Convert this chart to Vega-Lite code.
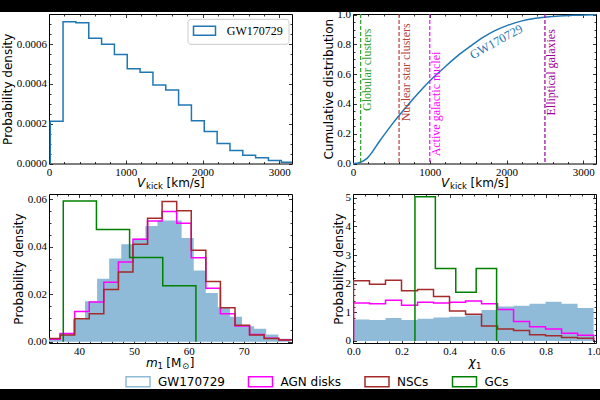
{
  "$schema": "https://vega.github.io/schema/vega-lite/v6.json",
  "padding": 0,
  "background": "white",
  "columns": 4,
  "spacing": 0,
  "bounds": "flush",
  "align": "each",
  "center": false,
  "resolve": {
    "scale": {"color": "independent", "stroke": "independent"},
    "legend": {"color": "independent", "stroke": "independent"}
  },
  "config": {
    "view": {"stroke": null},
    "axis": {
      "grid": false, "domain": false,
      "labelFont": "Liberation Serif", "labelFontSize": 11, "labelColor": "black",
      "labelPadding": 6, "labelFlush": false, "labelOverlap": false,
      "titleFont": "DejaVu Sans", "titleFontSize": 12, "titleFontWeight": "normal", "titleColor": "black",
      "tickColor": "black", "tickWidth": 0.8, "tickSize": -3.5
    }
  },
  "datasets": {
    "tl": [
      {"s": "GW170729", "i": 0, "x": 16, "y": 0},
      {"s": "GW170729", "i": 1, "x": 16, "y": 0.000212},
      {"s": "GW170729", "i": 2, "x": 183, "y": 0.000713},
      {"s": "GW170729", "i": 3, "x": 350, "y": 0.000708},
      {"s": "GW170729", "i": 4, "x": 518, "y": 0.00063},
      {"s": "GW170729", "i": 5, "x": 685, "y": 0.0006},
      {"s": "GW170729", "i": 6, "x": 852, "y": 0.000548},
      {"s": "GW170729", "i": 7, "x": 1019, "y": 0.000477},
      {"s": "GW170729", "i": 8, "x": 1186, "y": 0.000459},
      {"s": "GW170729", "i": 9, "x": 1354, "y": 0.000395},
      {"s": "GW170729", "i": 10, "x": 1521, "y": 0.00037},
      {"s": "GW170729", "i": 11, "x": 1688, "y": 0.000294},
      {"s": "GW170729", "i": 12, "x": 1855, "y": 0.000215},
      {"s": "GW170729", "i": 13, "x": 2022, "y": 0.000161},
      {"s": "GW170729", "i": 14, "x": 2190, "y": 0.000101},
      {"s": "GW170729", "i": 15, "x": 2357, "y": 0.0000655},
      {"s": "GW170729", "i": 16, "x": 2524, "y": 0.000042},
      {"s": "GW170729", "i": 17, "x": 2691, "y": 0.0000286},
      {"s": "GW170729", "i": 18, "x": 2858, "y": 0.0000151},
      {"s": "GW170729", "i": 19, "x": 3026, "y": 0.0000067},
      {"s": "GW170729", "i": 20, "x": 3193, "y": 0}
    ],
    "cdf": [
      {"x": 0, "y": 0}, {"x": 16, "y": 0}, {"x": 183, "y": 0.035}, {"x": 350, "y": 0.153},
      {"x": 518, "y": 0.27}, {"x": 685, "y": 0.375}, {"x": 852, "y": 0.474}, {"x": 1019, "y": 0.565},
      {"x": 1186, "y": 0.644}, {"x": 1354, "y": 0.72}, {"x": 1521, "y": 0.785}, {"x": 1688, "y": 0.846},
      {"x": 1855, "y": 0.895}, {"x": 2022, "y": 0.93}, {"x": 2190, "y": 0.957}, {"x": 2357, "y": 0.974},
      {"x": 2524, "y": 0.985}, {"x": 2691, "y": 0.992}, {"x": 2858, "y": 0.996}, {"x": 3026, "y": 0.999},
      {"x": 3165, "y": 1.0}
    ],
    "envs": [
      {"n": "Globular clusters", "v": 100, "p": 0.63},
      {"n": "Nuclear star clusters", "v": 600, "p": 0.613},
      {"n": "Active galactic nuclei", "v": 1000, "p": 0.4},
      {"n": "Elliptical galaxies", "v": 2500, "p": 0.613}
    ],
    "bl_gw": [
      {"x": 34.5, "y": 0.0013}, {"x": 36.7, "y": 0.003}, {"x": 38.9, "y": 0.0094}, {"x": 41.1, "y": 0.017},
      {"x": 43.3, "y": 0.0265}, {"x": 45.5, "y": 0.035}, {"x": 47.7, "y": 0.041}, {"x": 49.9, "y": 0.0435},
      {"x": 52.1, "y": 0.0487}, {"x": 54.3, "y": 0.051}, {"x": 56.5, "y": 0.051}, {"x": 58.7, "y": 0.0437},
      {"x": 60.9, "y": 0.03}, {"x": 63.1, "y": 0.0205}, {"x": 65.3, "y": 0.0145}, {"x": 67.5, "y": 0.0105},
      {"x": 69.7, "y": 0.0065}, {"x": 71.9, "y": 0.0055}, {"x": 74.1, "y": 0.003}, {"x": 76.3, "y": 0.0012},
      {"x": 78.5, "y": 0.0012}
    ],
    "bl_agn": [
      {"i": 0, "x": 33.9, "y": 0}, {"i": 1, "x": 33.9, "y": 0.001}, {"i": 2, "x": 36.56, "y": 0.0035},
      {"i": 3, "x": 39.21, "y": 0.0127}, {"i": 4, "x": 41.87, "y": 0.0167}, {"i": 5, "x": 44.52, "y": 0.025},
      {"i": 6, "x": 47.18, "y": 0.0336}, {"i": 7, "x": 49.83, "y": 0.0431}, {"i": 8, "x": 52.49, "y": 0.0508},
      {"i": 9, "x": 55.14, "y": 0.0548}, {"i": 10, "x": 57.8, "y": 0.0499}, {"i": 11, "x": 60.45, "y": 0.0354},
      {"i": 12, "x": 63.11, "y": 0.0225}, {"i": 13, "x": 65.76, "y": 0.0118}, {"i": 14, "x": 68.42, "y": 0.0066},
      {"i": 15, "x": 71.07, "y": 0.003}, {"i": 16, "x": 73.73, "y": 0.0015}, {"i": 17, "x": 76.38, "y": 0.0008},
      {"i": 18, "x": 79.04, "y": 0}
    ],
    "bl_nsc": [
      {"i": 0, "x": 33.9, "y": 0}, {"i": 1, "x": 33.9, "y": 0.0013}, {"i": 2, "x": 36.56, "y": 0.0028},
      {"i": 3, "x": 39.21, "y": 0.0097}, {"i": 4, "x": 41.87, "y": 0.0118}, {"i": 5, "x": 44.52, "y": 0.022},
      {"i": 6, "x": 47.18, "y": 0.0294}, {"i": 7, "x": 49.83, "y": 0.041}, {"i": 8, "x": 52.49, "y": 0.052},
      {"i": 9, "x": 55.14, "y": 0.059}, {"i": 10, "x": 57.8, "y": 0.0551}, {"i": 11, "x": 60.45, "y": 0.0385},
      {"i": 12, "x": 63.11, "y": 0.0253}, {"i": 13, "x": 65.76, "y": 0.0143}, {"i": 14, "x": 68.42, "y": 0.0069},
      {"i": 15, "x": 71.07, "y": 0.0028}, {"i": 16, "x": 73.73, "y": 0.0013}, {"i": 17, "x": 76.38, "y": 0.0007},
      {"i": 18, "x": 79.04, "y": 0}
    ],
    "bl_gc": [
      {"i": 0, "x": 37.14, "y": 0}, {"i": 1, "x": 37.14, "y": 0.0593}, {"i": 2, "x": 43.18, "y": 0.0473},
      {"i": 3, "x": 49.22, "y": 0.0355}, {"i": 4, "x": 55.26, "y": 0.0236}, {"i": 5, "x": 61.3, "y": 0}
    ],
    "br_gw": [
      {"x": 0, "y": 0.75}, {"x": 0.0667, "y": 0.73}, {"x": 0.1333, "y": 0.8}, {"x": 0.2, "y": 0.73},
      {"x": 0.2667, "y": 0.78}, {"x": 0.3333, "y": 0.82}, {"x": 0.4, "y": 0.85}, {"x": 0.4667, "y": 0.9},
      {"x": 0.5333, "y": 1.08}, {"x": 0.6, "y": 1.2}, {"x": 0.6667, "y": 1.23}, {"x": 0.7333, "y": 1.3},
      {"x": 0.8, "y": 1.37}, {"x": 0.8667, "y": 1.3}, {"x": 0.9333, "y": 1.15}, {"x": 1.0, "y": 1.15}
    ],
    "br_agn": [
      {"i": 0, "x": 0, "y": 0}, {"i": 1, "x": 0, "y": 1.33}, {"i": 2, "x": 0.0667, "y": 1.3},
      {"i": 3, "x": 0.1333, "y": 1.42}, {"i": 4, "x": 0.2, "y": 1.25}, {"i": 5, "x": 0.2667, "y": 1.35},
      {"i": 6, "x": 0.3333, "y": 1.33}, {"i": 7, "x": 0.4, "y": 1.35}, {"i": 8, "x": 0.4667, "y": 1.4},
      {"i": 9, "x": 0.5333, "y": 1.3}, {"i": 10, "x": 0.6, "y": 1.1}, {"i": 11, "x": 0.6667, "y": 0.68},
      {"i": 12, "x": 0.7333, "y": 0.5}, {"i": 13, "x": 0.8, "y": 0.42}, {"i": 14, "x": 0.8667, "y": 0.27},
      {"i": 15, "x": 0.9333, "y": 0.2}, {"i": 16, "x": 1.0, "y": 0}
    ],
    "br_nsc": [
      {"i": 0, "x": 0, "y": 0}, {"i": 1, "x": 0, "y": 2.1}, {"i": 2, "x": 0.0667, "y": 1.98},
      {"i": 3, "x": 0.1333, "y": 2.12}, {"i": 4, "x": 0.2, "y": 1.75}, {"i": 5, "x": 0.2667, "y": 1.8},
      {"i": 6, "x": 0.3333, "y": 1.55}, {"i": 7, "x": 0.4, "y": 1.05}, {"i": 8, "x": 0.4667, "y": 0.93},
      {"i": 9, "x": 0.5333, "y": 0.52}, {"i": 10, "x": 0.6, "y": 0.42}, {"i": 11, "x": 0.6667, "y": 0.37},
      {"i": 12, "x": 0.7333, "y": 0.22}, {"i": 13, "x": 0.8, "y": 0.18}, {"i": 14, "x": 0.8667, "y": 0.12},
      {"i": 15, "x": 0.9333, "y": 0.1}, {"i": 16, "x": 1.0, "y": 0}
    ],
    "br_gc": [
      {"i": 0, "x": 0.256, "y": 0}, {"i": 1, "x": 0.256, "y": 5.03}, {"i": 2, "x": 0.341, "y": 2.53},
      {"i": 3, "x": 0.426, "y": 1.7}, {"i": 4, "x": 0.511, "y": 2.53}, {"i": 5, "x": 0.596, "y": 0}
    ]
  },
  "concat": [
    {"width": 49, "height": 12, "data": {"values": []}, "mark": "point", "view": {"fill": "black"}},
    {"width": 243, "height": 12, "data": {"values": []}, "mark": "point", "view": {"fill": "black"}},
    {"width": 61, "height": 12, "data": {"values": []}, "mark": "point", "view": {"fill": "black"}},
    {"width": 247, "height": 12, "data": {"values": []}, "mark": "point", "view": {"fill": "black"}},

    {"width": 49, "height": 1.5, "data": {"values": []}, "mark": "point"},
    {"width": 243, "height": 1.5, "data": {"values": []}, "mark": "point"},
    {"width": 61, "height": 1.5, "data": {"values": []}, "mark": "point"},
    {"width": 243, "height": 1.5, "data": {"values": []}, "mark": "point"},

    {"width": 49, "height": 149.5, "data": {"values": []}, "mark": "point"},
    {
      "width": 243, "height": 149.5,
      "view": {"stroke": "black", "strokeWidth": 1},
      "resolve": {"axis": {"x": "independent", "y": "independent"}},
      "layer": [
        {
          "data": {"name": "tl"},
          "mark": {"type": "line", "interpolate": "step-after", "strokeWidth": 1.5, "clip": true},
          "encoding": {
            "x": {"field": "x", "type": "quantitative", "scale": {"domain": [0, 3165], "nice": false, "zero": false},
              "axis": {"orient": "bottom", "values": [0, 1000, 2000, 3000], "format": "d", "title": "[km/s]",
                "titleX": 117, "titleY": 22.6, "titleAlign": "left", "titleBaseline": "alphabetic"}},
            "y": {"field": "y", "type": "quantitative", "scale": {"domain": [0, 0.000752], "nice": false, "zero": false},
              "axis": {"orient": "left", "values": [0, 0.0002, 0.0004, 0.0006], "format": ".4f", "title": "Probability density",
                "titleX": -41.5, "titleY": 74.75, "titleAlign": "center", "titleBaseline": "middle"}},
            "order": {"field": "i", "type": "quantitative"},
            "stroke": {"field": "s", "type": "nominal", "scale": {"domain": ["GW170729"], "range": ["#1f77b4"]},
              "legend": {"orient": "none", "legendX": 138.5, "legendY": 4.8, "title": null, "padding": 5,
                "strokeColor": "#cccccc", "fillColor": "white", "cornerRadius": 3,
                "symbolType": "M-1,-0.75H2.667V0.75H-1Z", "symbolSize": 144, "symbolStrokeWidth": 1.5,
                "symbolFillColor": "transparent", "labelFont": "Liberation Serif", "labelFontSize": 12,
                "labelColor": "black", "labelOffset": 20.3}}
          }
        },
        {
          "data": {"values": []}, "mark": "point",
          "encoding": {
            "x": {"field": "x", "type": "quantitative", "scale": {"domain": [0, 3165], "nice": false, "zero": false},
              "axis": {"orient": "bottom", "values": [200, 400, 600, 800, 1200, 1400, 1600, 1800, 2200, 2400, 2600, 2800],
                "labels": false, "tickSize": -2, "title": "V", "titleFontStyle": "italic",
                "titleX": 87.5, "titleY": 22.6, "titleAlign": "left", "titleBaseline": "alphabetic"}},
            "y": {"field": "y", "type": "quantitative", "scale": {"domain": [0, 0.000752], "nice": false, "zero": false},
              "axis": {"orient": "left", "values": [0.00005, 0.0001, 0.00015, 0.00025, 0.0003, 0.00035, 0.00045, 0.0005, 0.00055, 0.00065, 0.0007],
                "labels": false, "tickSize": -2, "title": null}}
          }
        },
        {
          "data": {"values": []}, "mark": "point",
          "encoding": {
            "x": {"field": "x", "type": "quantitative", "scale": {"domain": [0, 3165], "nice": false, "zero": false},
              "axis": {"orient": "top", "values": [0, 1000, 2000, 3000], "labels": false, "title": null}},
            "y": {"field": "y", "type": "quantitative", "scale": {"domain": [0, 0.000752], "nice": false, "zero": false},
              "axis": {"orient": "right", "values": [0, 0.0002, 0.0004, 0.0006], "labels": false, "title": null}}
          }
        },
        {
          "data": {"values": []}, "mark": "point",
          "encoding": {
            "x": {"field": "x", "type": "quantitative", "scale": {"domain": [0, 3165], "nice": false, "zero": false},
              "axis": {"orient": "top", "values": [200, 400, 600, 800, 1200, 1400, 1600, 1800, 2200, 2400, 2600, 2800],
                "labels": false, "tickSize": -2, "title": null}},
            "y": {"field": "y", "type": "quantitative", "scale": {"domain": [0, 0.000752], "nice": false, "zero": false},
              "axis": {"orient": "right", "values": [0.00005, 0.0001, 0.00015, 0.00025, 0.0003, 0.00035, 0.00045, 0.0005, 0.00055, 0.00065, 0.0007],
                "labels": false, "tickSize": -2, "title": null}}
          }
        },
        {
          "data": {"values": []}, "mark": "point",
          "encoding": {
            "x": {"field": "x", "type": "quantitative", "scale": {"domain": [0, 3165], "nice": false, "zero": false},
              "axis": {"orient": "bottom", "labels": false, "ticks": false, "title": "kick", "titleFontSize": 8.5,
                "titleX": 96.5, "titleY": 25, "titleAlign": "left", "titleBaseline": "alphabetic"}}
          }
        }
      ]
    },
    {"width": 61, "height": 149.5, "data": {"values": []}, "mark": "point"},
    {
      "width": 243, "height": 149.5,
      "view": {"stroke": "black", "strokeWidth": 1},
      "resolve": {"axis": {"x": "independent", "y": "independent"}},
      "layer": [
        {
          "data": {"name": "cdf"},
          "mark": {"type": "line", "color": "#1f77b4", "strokeWidth": 1.5, "interpolate": "monotone"},
          "encoding": {
            "x": {"field": "x", "type": "quantitative", "scale": {"domain": [0, 3165], "nice": false, "zero": false},
              "axis": {"orient": "bottom", "values": [0, 1000, 2000, 3000], "format": "d", "title": "[km/s]",
                "titleX": 117, "titleY": 22.6, "titleAlign": "left", "titleBaseline": "alphabetic"}},
            "y": {"field": "y", "type": "quantitative", "scale": {"domain": [0, 1.005], "nice": false, "zero": false},
              "axis": {"orient": "left", "values": [0, 0.2, 0.4, 0.6, 0.8, 1], "format": ".1f", "title": "Cumulative distribution",
                "titleX": -25, "titleY": 74.75, "titleAlign": "center", "titleBaseline": "middle"}}
          }
        },
        {
          "data": {"name": "envs"},
          "mark": {"type": "rule", "strokeDash": [4, 2], "strokeWidth": 1.2},
          "encoding": {
            "x": {"field": "v", "type": "quantitative", "scale": {"domain": [0, 3165], "nice": false, "zero": false},
              "axis": {"orient": "bottom", "labels": false, "ticks": false, "title": "V", "titleFontStyle": "italic",
                "titleX": 87.5, "titleY": 22.6, "titleAlign": "left", "titleBaseline": "alphabetic"}},
            "color": {"field": "n", "type": "nominal", "legend": null,
              "scale": {"domain": ["Globular clusters", "Nuclear star clusters", "Active galactic nuclei", "Elliptical galaxies"],
                "range": ["#2ca02c", "#b5403a", "#ff00ff", "#9b009b"]}}
          }
        },
        {
          "data": {"name": "envs"},
          "mark": {"type": "text", "angle": 270, "align": "center", "baseline": "top", "dy": 1.5,
            "font": "Liberation Serif", "fontSize": 12},
          "encoding": {
            "x": {"field": "v", "type": "quantitative", "scale": {"domain": [0, 3165], "nice": false, "zero": false},
              "axis": {"orient": "bottom", "labels": false, "ticks": false, "title": "kick", "titleFontSize": 8.5,
                "titleX": 96.5, "titleY": 25, "titleAlign": "left", "titleBaseline": "alphabetic"}},
            "y": {"field": "p", "type": "quantitative", "scale": {"domain": [0, 1.005], "nice": false, "zero": false}, "axis": null},
            "text": {"field": "n"},
            "color": {"field": "n", "type": "nominal", "legend": null,
              "scale": {"domain": ["Globular clusters", "Nuclear star clusters", "Active galactic nuclei", "Elliptical galaxies"],
                "range": ["#2ca02c", "#b5403a", "#ff00ff", "#9b009b"]}}
          }
        },
        {
          "data": {"values": [{"n": "GW170729", "v": 1866, "p": 0.818}]},
          "mark": {"type": "text", "angle": 331, "align": "center", "baseline": "middle",
            "font": "Liberation Serif", "fontSize": 12.5, "color": "#1f77b4"},
          "encoding": {
            "x": {"field": "v", "type": "quantitative", "scale": {"domain": [0, 3165], "nice": false, "zero": false}, "axis": null},
            "y": {"field": "p", "type": "quantitative", "scale": {"domain": [0, 1.005], "nice": false, "zero": false}, "axis": null},
            "text": {"field": "n"}
          }
        },
        {
          "data": {"values": []}, "mark": "point",
          "encoding": {
            "x": {"field": "x", "type": "quantitative", "scale": {"domain": [0, 3165], "nice": false, "zero": false},
              "axis": {"orient": "bottom", "values": [200, 400, 600, 800, 1200, 1400, 1600, 1800, 2200, 2400, 2600, 2800],
                "labels": false, "tickSize": -2, "title": null}},
            "y": {"field": "y", "type": "quantitative", "scale": {"domain": [0, 1.005], "nice": false, "zero": false},
              "axis": {"orient": "left", "values": [0.05, 0.1, 0.15, 0.25, 0.3, 0.35, 0.45, 0.5, 0.55, 0.65, 0.7, 0.75, 0.85, 0.9, 0.95],
                "labels": false, "tickSize": -2, "title": null}}
          }
        },
        {
          "data": {"values": []}, "mark": "point",
          "encoding": {
            "x": {"field": "x", "type": "quantitative", "scale": {"domain": [0, 3165], "nice": false, "zero": false},
              "axis": {"orient": "top", "values": [0, 1000, 2000, 3000], "labels": false, "title": null}},
            "y": {"field": "y", "type": "quantitative", "scale": {"domain": [0, 1.005], "nice": false, "zero": false},
              "axis": {"orient": "right", "values": [0, 0.2, 0.4, 0.6, 0.8, 1], "labels": false, "title": null}}
          }
        },
        {
          "data": {"values": []}, "mark": "point",
          "encoding": {
            "x": {"field": "x", "type": "quantitative", "scale": {"domain": [0, 3165], "nice": false, "zero": false},
              "axis": {"orient": "top", "values": [200, 400, 600, 800, 1200, 1400, 1600, 1800, 2200, 2400, 2600, 2800],
                "labels": false, "tickSize": -2, "title": null}},
            "y": {"field": "y", "type": "quantitative", "scale": {"domain": [0, 1.005], "nice": false, "zero": false},
              "axis": {"orient": "right", "values": [0.05, 0.1, 0.15, 0.25, 0.3, 0.35, 0.45, 0.5, 0.55, 0.65, 0.7, 0.75, 0.85, 0.9, 0.95],
                "labels": false, "tickSize": -2, "title": null}}
          }
        }
      ]
    },

    {"width": 49, "height": 30, "data": {"values": []}, "mark": "point"},
    {"width": 243, "height": 30, "data": {"values": []}, "mark": "point"},
    {"width": 61, "height": 30, "data": {"values": []}, "mark": "point"},
    {"width": 243, "height": 30, "data": {"values": []}, "mark": "point"},

    {"width": 49, "height": 149, "data": {"values": []}, "mark": "point"},
    {
      "width": 243, "height": 149,
      "view": {"stroke": "black", "strokeWidth": 1},
      "resolve": {"axis": {"x": "independent", "y": "independent"}},
      "layer": [
        {
          "data": {"name": "bl_gw"},
          "mark": {"type": "area", "interpolate": "step-after", "color": "#8fbbd9", "clip": true},
          "encoding": {
            "x": {"field": "x", "type": "quantitative", "scale": {"domain": [34.54, 78.8], "nice": false, "zero": false},
              "axis": {"orient": "bottom", "values": [40, 50, 60, 70], "format": "d", "title": "m", "titleFontStyle": "italic",
                "titleX": 96.5, "titleY": 23, "titleAlign": "left", "titleBaseline": "alphabetic"}},
            "y": {"field": "y", "type": "quantitative", "scale": {"domain": [-0.00055, 0.0622], "nice": false, "zero": false},
              "axis": {"orient": "left", "values": [0, 0.02, 0.04, 0.06], "format": ".2f", "title": "Probability density",
                "titleX": -30.3, "titleY": 74.5, "titleAlign": "center", "titleBaseline": "middle"}}
          }
        },
        {
          "data": {"name": "bl_agn"},
          "mark": {"type": "line", "interpolate": "step-after", "color": "#ff00ff", "strokeWidth": 1.5, "clip": true},
          "encoding": {
            "x": {"field": "x", "type": "quantitative", "scale": {"domain": [34.54, 78.8], "nice": false, "zero": false},
              "axis": {"orient": "bottom", "labels": false, "ticks": false, "title": "1", "titleFontSize": 8.5,
                "titleX": 108, "titleY": 25.3, "titleAlign": "left", "titleBaseline": "alphabetic"}},
            "y": {"field": "y", "type": "quantitative", "scale": {"domain": [-0.00055, 0.0622], "nice": false, "zero": false}, "axis": null},
            "order": {"field": "i", "type": "quantitative"}
          }
        },
        {
          "data": {"name": "bl_nsc"},
          "mark": {"type": "line", "interpolate": "step-after", "color": "#a52a2a", "strokeWidth": 1.5, "clip": true},
          "encoding": {
            "x": {"field": "x", "type": "quantitative", "scale": {"domain": [34.54, 78.8], "nice": false, "zero": false},
              "axis": {"orient": "bottom", "labels": false, "ticks": false, "title": "[M",
                "titleX": 116.7, "titleY": 23, "titleAlign": "left", "titleBaseline": "alphabetic"}},
            "y": {"field": "y", "type": "quantitative", "scale": {"domain": [-0.00055, 0.0622], "nice": false, "zero": false}, "axis": null},
            "order": {"field": "i", "type": "quantitative"}
          }
        },
        {
          "data": {"name": "bl_gc"},
          "mark": {"type": "line", "interpolate": "step-after", "color": "#008000", "strokeWidth": 1.5, "clip": true},
          "encoding": {
            "x": {"field": "x", "type": "quantitative", "scale": {"domain": [34.54, 78.8], "nice": false, "zero": false},
              "axis": {"orient": "bottom", "labels": false, "ticks": false, "title": "⊙", "titleFontSize": 8.5,
                "titleX": 132.5, "titleY": 25.3, "titleAlign": "left", "titleBaseline": "alphabetic"}},
            "y": {"field": "y", "type": "quantitative", "scale": {"domain": [-0.00055, 0.0622], "nice": false, "zero": false}, "axis": null},
            "order": {"field": "i", "type": "quantitative"}
          }
        },
        {
          "data": {"values": []}, "mark": "point",
          "encoding": {
            "x": {"field": "x", "type": "quantitative", "scale": {"domain": [34.54, 78.8], "nice": false, "zero": false},
              "axis": {"orient": "bottom", "values": [36, 38, 42, 44, 46, 48, 52, 54, 56, 58, 62, 64, 66, 68, 72, 74, 76, 78],
                "labels": false, "tickSize": -2, "title": "]",
                "titleX": 140.3, "titleY": 23, "titleAlign": "left", "titleBaseline": "alphabetic"}},
            "y": {"field": "y", "type": "quantitative", "scale": {"domain": [-0.00055, 0.0622], "nice": false, "zero": false},
              "axis": {"orient": "left", "values": [0.005, 0.01, 0.015, 0.025, 0.03, 0.035, 0.045, 0.05, 0.055],
                "labels": false, "tickSize": -2, "title": null}}
          }
        },
        {
          "data": {"values": []}, "mark": "point",
          "encoding": {
            "x": {"field": "x", "type": "quantitative", "scale": {"domain": [34.54, 78.8], "nice": false, "zero": false},
              "axis": {"orient": "top", "values": [40, 50, 60, 70], "labels": false, "title": null}},
            "y": {"field": "y", "type": "quantitative", "scale": {"domain": [-0.00055, 0.0622], "nice": false, "zero": false},
              "axis": {"orient": "right", "values": [0, 0.02, 0.04, 0.06], "labels": false, "title": null}}
          }
        },
        {
          "data": {"values": []}, "mark": "point",
          "encoding": {
            "x": {"field": "x", "type": "quantitative", "scale": {"domain": [34.54, 78.8], "nice": false, "zero": false},
              "axis": {"orient": "top", "values": [36, 38, 42, 44, 46, 48, 52, 54, 56, 58, 62, 64, 66, 68, 72, 74, 76, 78],
                "labels": false, "tickSize": -2, "title": null}},
            "y": {"field": "y", "type": "quantitative", "scale": {"domain": [-0.00055, 0.0622], "nice": false, "zero": false},
              "axis": {"orient": "right", "values": [0.005, 0.01, 0.015, 0.025, 0.03, 0.035, 0.045, 0.05, 0.055],
                "labels": false, "tickSize": -2, "title": null}}
          }
        }
      ]
    },
    {"width": 61, "height": 149, "data": {"values": []}, "mark": "point"},
    {
      "width": 243, "height": 149,
      "view": {"stroke": "black", "strokeWidth": 1},
      "resolve": {"axis": {"x": "independent", "y": "independent"}},
      "layer": [
        {
          "data": {"name": "br_gw"},
          "mark": {"type": "area", "interpolate": "step-after", "color": "#8fbbd9", "clip": true},
          "encoding": {
            "x": {"field": "x", "type": "quantitative", "scale": {"domain": [-0.002, 1.01], "nice": false, "zero": false},
              "axis": {"orient": "bottom", "values": [0, 0.2, 0.4, 0.6, 0.8, 1], "format": ".1f", "title": "χ", "titleFontStyle": "italic",
                "titleX": 115, "titleY": 22.5, "titleAlign": "left", "titleBaseline": "alphabetic"}},
            "y": {"field": "y", "type": "quantitative", "scale": {"domain": [-0.07, 5.13], "nice": false, "zero": false},
              "axis": {"orient": "left", "values": [0, 1, 2, 3, 4, 5], "format": "d", "title": "Probability density",
                "titleX": -15, "titleY": 74.5, "titleAlign": "center", "titleBaseline": "middle"}}
          }
        },
        {
          "data": {"name": "br_agn"},
          "mark": {"type": "line", "interpolate": "step-after", "color": "#ff00ff", "strokeWidth": 1.5, "clip": true},
          "encoding": {
            "x": {"field": "x", "type": "quantitative", "scale": {"domain": [-0.002, 1.01], "nice": false, "zero": false},
              "axis": {"orient": "bottom", "labels": false, "ticks": false, "title": "1", "titleFontSize": 8.5,
                "titleX": 122.5, "titleY": 25, "titleAlign": "left", "titleBaseline": "alphabetic"}},
            "y": {"field": "y", "type": "quantitative", "scale": {"domain": [-0.07, 5.13], "nice": false, "zero": false}, "axis": null},
            "order": {"field": "i", "type": "quantitative"}
          }
        },
        {
          "data": {"name": "br_nsc"},
          "mark": {"type": "line", "interpolate": "step-after", "color": "#a52a2a", "strokeWidth": 1.5, "clip": true},
          "encoding": {
            "x": {"field": "x", "type": "quantitative", "scale": {"domain": [-0.002, 1.01], "nice": false, "zero": false}, "axis": null},
            "y": {"field": "y", "type": "quantitative", "scale": {"domain": [-0.07, 5.13], "nice": false, "zero": false}, "axis": null},
            "order": {"field": "i", "type": "quantitative"}
          }
        },
        {
          "data": {"name": "br_gc"},
          "mark": {"type": "line", "interpolate": "step-after", "color": "#008000", "strokeWidth": 1.5, "clip": true},
          "encoding": {
            "x": {"field": "x", "type": "quantitative", "scale": {"domain": [-0.002, 1.01], "nice": false, "zero": false}, "axis": null},
            "y": {"field": "y", "type": "quantitative", "scale": {"domain": [-0.07, 5.13], "nice": false, "zero": false}, "axis": null},
            "order": {"field": "i", "type": "quantitative"}
          }
        },
        {
          "data": {"values": []}, "mark": "point",
          "encoding": {
            "x": {"field": "x", "type": "quantitative", "scale": {"domain": [-0.002, 1.01], "nice": false, "zero": false},
              "axis": {"orient": "bottom", "values": [0.05, 0.1, 0.15, 0.25, 0.3, 0.35, 0.45, 0.5, 0.55, 0.65, 0.7, 0.75, 0.85, 0.9, 0.95],
                "labels": false, "tickSize": -2, "title": null}},
            "y": {"field": "y", "type": "quantitative", "scale": {"domain": [-0.07, 5.13], "nice": false, "zero": false},
              "axis": {"orient": "left", "values": [0.2, 0.4, 0.6, 0.8, 1.2, 1.4, 1.6, 1.8, 2.2, 2.4, 2.6, 2.8, 3.2, 3.4, 3.6, 3.8, 4.2, 4.4, 4.6, 4.8],
                "labels": false, "tickSize": -2, "title": null}}
          }
        },
        {
          "data": {"values": []}, "mark": "point",
          "encoding": {
            "x": {"field": "x", "type": "quantitative", "scale": {"domain": [-0.002, 1.01], "nice": false, "zero": false},
              "axis": {"orient": "top", "values": [0, 0.2, 0.4, 0.6, 0.8, 1], "labels": false, "title": null}},
            "y": {"field": "y", "type": "quantitative", "scale": {"domain": [-0.07, 5.13], "nice": false, "zero": false},
              "axis": {"orient": "right", "values": [0, 1, 2, 3, 4, 5], "labels": false, "title": null}}
          }
        },
        {
          "data": {"values": []}, "mark": "point",
          "encoding": {
            "x": {"field": "x", "type": "quantitative", "scale": {"domain": [-0.002, 1.01], "nice": false, "zero": false},
              "axis": {"orient": "top", "values": [0.05, 0.1, 0.15, 0.25, 0.3, 0.35, 0.45, 0.5, 0.55, 0.65, 0.7, 0.75, 0.85, 0.9, 0.95],
                "labels": false, "tickSize": -2, "title": null}},
            "y": {"field": "y", "type": "quantitative", "scale": {"domain": [-0.07, 5.13], "nice": false, "zero": false},
              "axis": {"orient": "right", "values": [0.2, 0.4, 0.6, 0.8, 1.2, 1.4, 1.6, 1.8, 2.2, 2.4, 2.6, 2.8, 3.2, 3.4, 3.6, 3.8, 4.2, 4.4, 4.6, 4.8],
                "labels": false, "tickSize": -2, "title": null}}
          }
        }
      ]
    },

    {
      "width": 49, "height": 46,
      "data": {"values": [{"s": "GW170729"}, {"s": "AGN disks"}, {"s": "NSCs"}, {"s": "GCs"}]},
      "mark": {"type": "point", "opacity": 0},
      "encoding": {
        "color": {"field": "s", "type": "nominal", "sort": null,
          "scale": {"domain": ["GW170729", "AGN disks", "NSCs", "GCs"], "range": ["#8fbbd9", "#ff00ff", "#a52a2a", "#008000"]},
          "legend": {"orient": "none", "legendX": 125, "legendY": 31.7, "direction": "horizontal", "columns": 4,
            "title": null, "padding": 0, "columnPadding": 20.5,
            "symbolType": "M-1,-0.83H3V0.83H-1Z", "symbolSize": 144, "symbolStrokeWidth": 1.5,
            "labelFont": "DejaVu Sans", "labelFontSize": 12, "labelColor": "black", "labelOffset": 19, "labelLimit": 200,
            "encode": {"symbols": {"update": {
              "fill": {"signal": "datum.value === 'GW170729' ? '#8fbbd9' : 'white'"},
              "opacity": {"value": 1}}}}}
        }
      }
    },
    {"width": 243, "height": 46, "data": {"values": []}, "mark": "point"},
    {"width": 61, "height": 46, "data": {"values": []}, "mark": "point"},
    {"width": 243, "height": 46, "data": {"values": []}, "mark": "point"},

    {"width": 49, "height": 12, "data": {"values": []}, "mark": "point", "view": {"fill": "black"}},
    {"width": 243, "height": 12, "data": {"values": []}, "mark": "point", "view": {"fill": "black"}},
    {"width": 61, "height": 12, "data": {"values": []}, "mark": "point", "view": {"fill": "black"}},
    {"width": 247, "height": 12, "data": {"values": []}, "mark": "point", "view": {"fill": "black"}}
  ]
}
